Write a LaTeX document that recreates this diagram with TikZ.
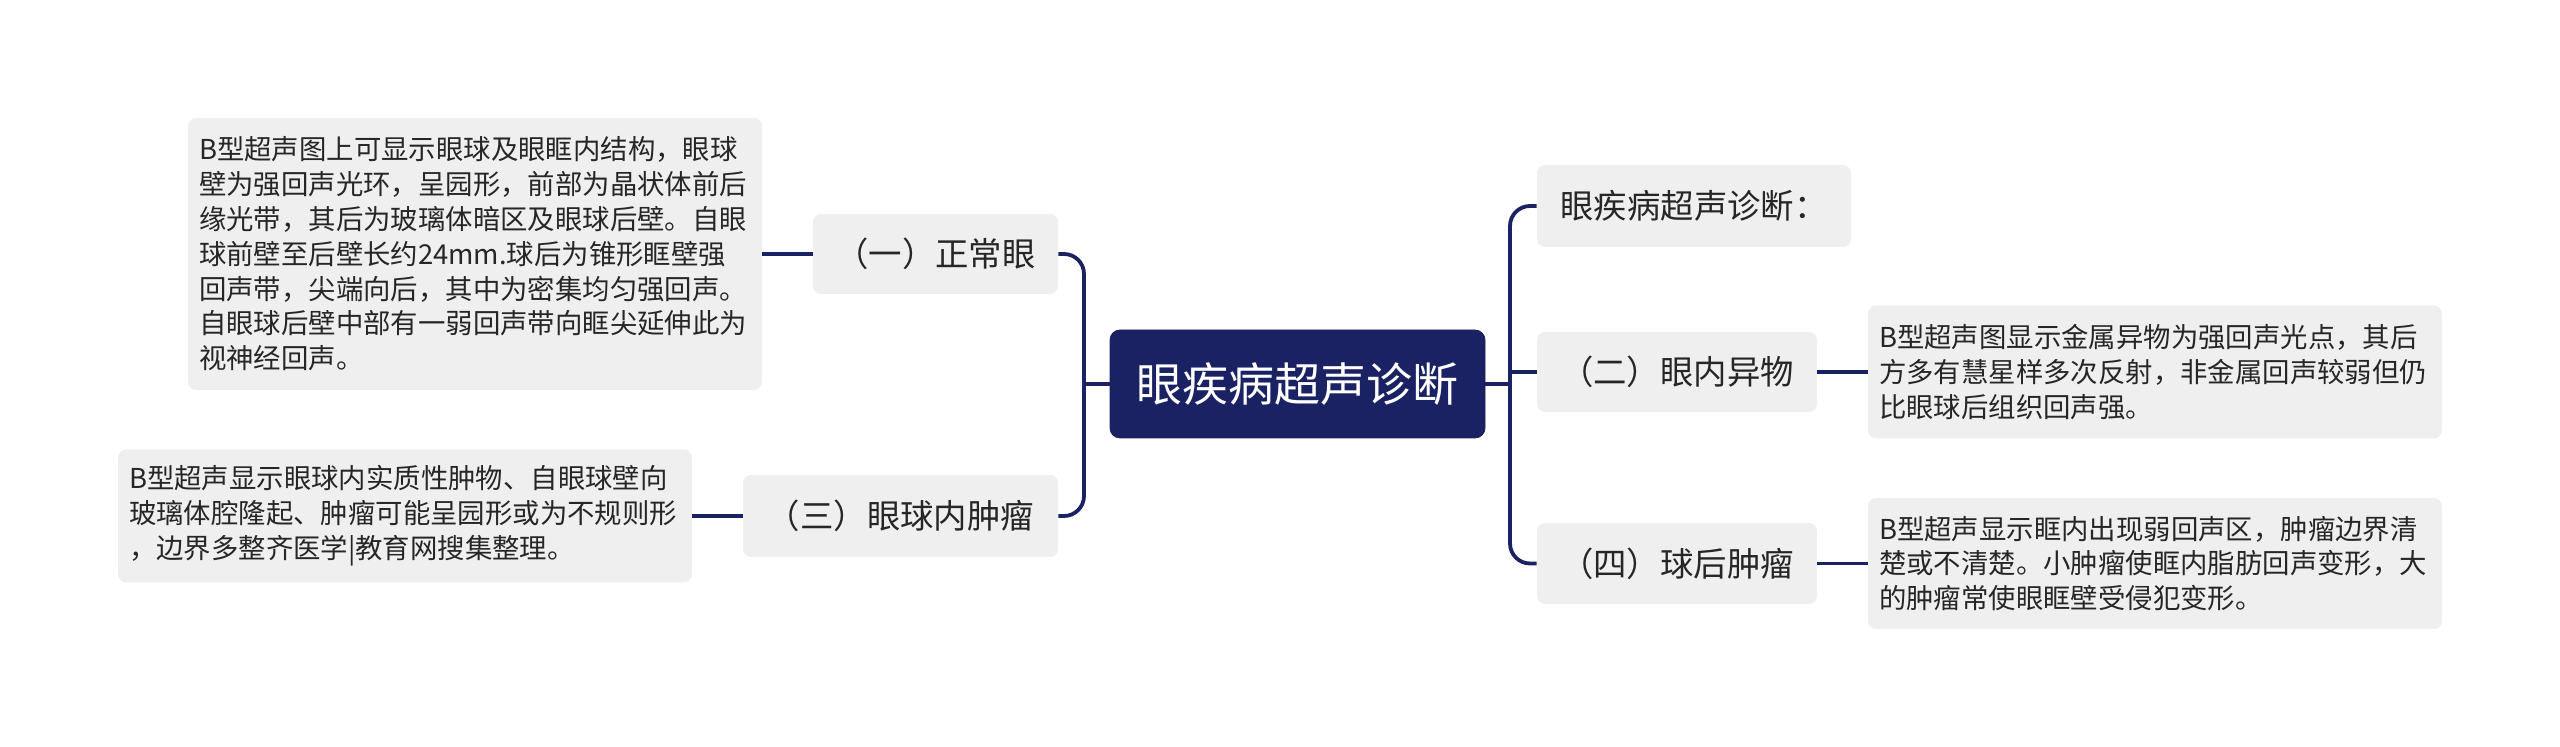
\documentclass[tikz,border=0pt]{standalone}
\usepackage{fontspec}
\newfontfamily\cjk{Noto Sans CJK SC}
\definecolor{navy}{HTML}{1B2264}
\definecolor{boxgray}{HTML}{EFEFEF}
\definecolor{txt}{HTML}{262626}
\tikzset{
  conn/.style={draw=navy, line width=1.9pt},
  leafbox/.style={fill=boxgray, rounded corners=4pt, text=txt, font=\cjk\fontsize{13.7pt}{17.4pt}\selectfont,
    text width=276pt, inner xsep=5.5pt, inner ysep=0pt, align=left},
  topicbox/.style={fill=boxgray, rounded corners=4pt, text=txt, font=\cjk\fontsize{16.7pt}{20pt}\selectfont,
    inner xsep=0pt, inner ysep=0pt, align=center},
  rootbox/.style={fill=navy, draw=navy, rounded corners=5pt, text=white, font=\cjk\fontsize{23pt}{28pt}\selectfont,
    inner sep=0pt, minimum width=187.5pt, minimum height=54pt}
}
\begin{document}
\begin{tikzpicture}[x=0.5pt, y=-0.5pt]
\useasboundingbox (0,0) rectangle (2560,747);
% root
\node[rootbox] (root) at (1297.5,384) {眼疾病超声诊断};
% left topics
\node[topicbox, minimum width=122.5pt, minimum height=40pt] (n1) at (935.5,254) {（一）正常眼};
\node[topicbox, minimum width=157.5pt, minimum height=41pt] (n3) at (900.5,516) {（三）眼球内肿瘤};
% right topics
\node[topicbox, minimum width=157pt, minimum height=41pt] (n0) at (1694,206) {眼疾病超声诊断：};
\node[topicbox, minimum width=140pt, minimum height=40pt] (n2) at (1677,372) {（二）眼内异物};
\node[topicbox, minimum width=140pt, minimum height=40.5pt] (n4) at (1677,563.5) {（四）球后肿瘤};
% leaves
\node[leafbox, minimum height=136pt] (b1) at (475,254) {B型超声图上可显示眼球及眼眶内结构，眼球\\壁为强回声光环，呈园形，前部为晶状体前后\\缘光带，其后为玻璃体暗区及眼球后壁。自眼\\球前壁至后壁长约24mm.球后为锥形眶壁强\\回声带，尖端向后，其中为密集均匀强回声。\\自眼球后壁中部有一弱回声带向眶尖延伸此为\\视神经回声。};
\node[leafbox, minimum height=66.5pt] (b3) at (405,516) {B型超声显示眼球内实质性肿物、自眼球壁向\\玻璃体腔隆起、肿瘤可能呈园形或为不规则形\\，边界多整齐医学|教育网搜集整理。};
\node[leafbox, minimum height=66.5pt] (b2) at (2155,372) {B型超声图显示金属异物为强回声光点，其后\\方多有慧星样多次反射，非金属回声较弱但仍\\比眼球后组织回声强。};
\node[leafbox, minimum height=65.5pt] (b4) at (2155,563.5) {B型超声显示眶内出现弱回声区，肿瘤边界清\\楚或不清楚。小肿瘤使眶内脂肪回声变形，大\\的肿瘤常使眼眶壁受侵犯变形。};
% trunks
\coordinate (lt) at (1084,384);
\coordinate (rt) at (1510,384);
\draw[conn, rounded corners=10pt] (n1.east) -| (lt) |- (n3.east);
\draw[conn] (root.west) -- (lt);
\draw[conn, rounded corners=10pt] (n0.west) -| (rt) |- (n4.west);
\draw[conn] (root.east) -- (rt);
\draw[conn] (n2.west) -- (n2.west -| rt);
% leaf connectors
\draw[conn] (b1.east) -- (n1.west);
\draw[conn] (b3.east) -- (n3.west);
\draw[conn] (n2.east) -- (b2.west);
\draw[conn] (n4.east) -- (b4.west);
\end{tikzpicture}
\end{document}
